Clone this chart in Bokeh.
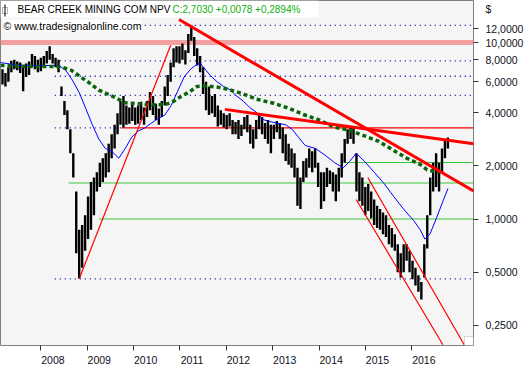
import numpy as np
from bokeh.plotting import figure
from bokeh.models import FixedTicker, Label, BoxAnnotation, Range1d
from bokeh.embed import file_html
from bokeh.resources import INLINE

# ---------------- data ----------------
title_name = "BEAR CREEK MINING COM NPV"
title_quote = "C:2,7030 +0,0078 +0,2894%"
source_note = "\u00a9 www.tradesignalonline.com"
currency = "$"

year_ticks = [2008, 2009, 2010, 2011, 2012, 2013, 2014, 2015, 2016]
year_labels = ["2008", "2009", "2010", "2011", "2012", "2013", "2014", "2015", "2016"]
price_ticks = [0.25, 0.5, 1.0, 2.0, 4.0, 6.0, 8.0, 10.0, 12.0]
price_labels = ["0,2500", "0,5000", "1,0000", "2,0000", "4,0000", "6,0000", "8,0000", "10,0000", "12,0000"]

bar_high = [7.05, 6.71, 7.23, 7.89, 7.99, 7.80, 7.70, 7.41, 7.60, 7.80, 8.61, 8.40, 7.99, 8.19, 8.40, 8.94, 9.51, 8.61, 8.19, 7.99,
            5.64, 4.67, 4.13, 3.22, 2.36, 1.43, 0.87, 0.925, 1.05, 1.34, 1.62, 1.72, 1.84, 2.08, 2.21, 2.36, 2.67, 3.02, 3.42, 3.98,
            4.67, 4.98, 4.39, 4.28, 4.50, 4.28, 4.39, 4.61, 4.28, 4.67, 5.24, 4.98, 4.50, 4.23, 4.67, 5.64, 6.54, 7.70, 9.28, 9.51,
            9.51, 9.88, 9.05, 11.19, 12.52, 10.76, 9.28, 8.40, 7.23, 5.99, 5.64, 4.98, 5.11, 4.39, 4.13, 3.98, 3.88, 3.98, 3.64, 3.54,
            3.64, 3.42, 3.78, 3.88, 3.42, 3.22, 3.64, 3.88, 3.78, 3.50, 3.64, 3.42, 3.42, 3.59, 3.50, 3.30, 3.02, 2.67, 2.51, 2.36,
            1.95, 1.72, 2.13, 2.21, 2.51, 2.42, 2.51, 2.08, 1.84, 1.84, 1.95, 1.88, 1.84, 1.79, 1.95, 2.36, 2.84, 3.22, 3.34, 3.30,
            2.36, 1.84, 1.72, 1.52, 1.58, 1.43, 1.29, 1.19, 1.14, 1.09, 1.05, 0.925, 0.89, 0.82, 0.72, 0.64, 0.72, 0.72, 0.66, 0.58,
            0.53, 0.48, 0.44, 0.72, 1.05, 1.72, 2.08, 2.36, 2.08, 2.51, 2.84, 2.90]
bar_low = [5.78, 5.64, 5.99, 6.79, 7.05, 6.96, 6.71, 5.30, 6.38, 6.54, 7.23, 7.05, 6.79, 6.88, 7.23, 7.60, 7.99, 7.60, 7.23, 6.79,
           4.98, 3.88, 3.22, 2.36, 1.72, 0.64, 0.46, 0.53, 0.66, 0.77, 0.87, 1.05, 1.43, 1.52, 1.62, 1.72, 1.84, 2.21, 2.51, 3.02,
           3.42, 3.30, 3.42, 3.47, 3.59, 3.42, 3.47, 3.64, 3.42, 3.78, 4.13, 3.88, 3.64, 3.42, 3.78, 4.39, 4.98, 5.99, 7.23, 7.70,
           7.60, 7.99, 7.51, 8.72, 10.24, 8.40, 7.41, 6.79, 5.11, 4.13, 3.88, 3.98, 3.78, 3.34, 3.42, 3.30, 3.22, 3.34, 3.02, 3.02,
           2.84, 2.95, 3.22, 3.10, 2.67, 2.51, 2.84, 3.22, 3.02, 2.84, 2.67, 2.36, 2.84, 3.10, 2.84, 2.36, 2.13, 2.03, 1.95, 1.72,
           1.19, 1.14, 1.62, 1.72, 1.95, 1.84, 1.95, 1.52, 1.14, 1.26, 1.52, 1.58, 1.43, 1.26, 1.43, 1.72, 2.08, 2.67, 2.84, 2.67,
           1.43, 1.26, 1.19, 1.05, 1.11, 1.01, 0.925, 0.89, 0.87, 0.82, 0.79, 0.72, 0.69, 0.66, 0.50, 0.466, 0.50, 0.58, 0.50, 0.455,
           0.42, 0.387, 0.35, 0.466, 0.68, 1.05, 1.43, 1.52, 1.43, 1.84, 2.21, 2.51]
first_bar, last_bar = 2007.173, 2016.778
bar_dates = np.linspace(first_bar, last_bar, len(bar_high))

ma_fast_dates = [2007.13, 2007.55, 2007.98, 2008.30, 2008.40, 2008.54, 2008.68, 2008.83, 2008.97, 2009.11, 2009.25, 2009.39,
                 2009.53, 2009.68, 2009.82, 2009.96, 2010.10, 2010.24, 2010.38, 2010.52, 2010.67, 2010.81, 2010.95, 2011.09,
                 2011.23, 2011.37, 2011.44, 2011.51, 2011.65, 2011.80, 2011.94, 2012.08, 2012.22, 2012.36, 2012.50, 2012.64,
                 2012.79, 2012.93, 2013.07, 2013.28, 2013.42, 2013.56, 2013.70, 2013.92, 2014.13, 2014.34, 2014.52, 2014.66,
                 2014.80, 2014.98, 2015.19, 2015.40, 2015.61, 2015.82, 2016.04, 2016.18, 2016.28, 2016.39, 2016.53, 2016.67, 2016.78]
ma_fast_values = [7.70, 7.41, 7.41, 7.41, 7.38, 6.94, 6.12, 5.19, 4.22, 3.42, 2.84, 2.51,
                  2.42, 2.21, 2.51, 2.91, 3.15, 3.28, 3.49, 3.69, 3.88, 4.39, 5.30, 6.38,
                  7.07, 7.54, 7.60, 7.23, 6.52, 5.99, 5.64, 5.40, 4.98, 4.67, 4.29, 4.04,
                  3.66, 3.57, 3.50, 3.42, 3.22, 2.90, 2.61, 2.51, 2.30, 2.08, 1.95, 2.12,
                  2.36, 2.12, 1.84, 1.59, 1.34, 1.14, 0.98, 0.87, 0.77, 0.82, 1.01, 1.26, 1.49]

ma_slow_dates = [2007.13, 2007.77, 2008.30, 2008.47, 2008.66, 2008.83, 2009.04, 2009.25, 2009.53, 2009.82, 2010.10, 2010.35,
                 2010.57, 2010.74, 2010.88, 2011.01, 2011.20, 2011.37, 2011.58, 2011.84, 2012.01, 2012.33, 2012.64, 2013.00,
                 2013.34, 2013.66, 2014.00, 2014.32, 2014.64, 2014.98, 2015.29, 2015.57, 2015.89, 2016.18, 2016.33, 2016.52, 2016.67]
ma_slow_values = [7.41, 7.32, 7.32, 7.23, 6.96, 6.46, 5.92, 5.37, 4.98, 4.56, 4.50, 4.44,
                  4.44, 4.50, 4.67, 4.92, 5.24, 5.64, 5.68, 5.57, 5.45, 5.15, 4.78, 4.54,
                  4.25, 3.91, 3.64, 3.32, 3.19, 2.96, 2.75, 2.48, 2.21, 2.04, 1.90, 1.85, 1.86]

dotted_levels = [12.5, 7.86, 6.44, 5.02, 0.458]
dotted_start = 2008.30
support_level = 3.28
support_break = 2009.74
green_levels = [2.09, 1.60, 1.00]
green_starts = [2014.55, 2008.60, 2009.25]
band_level = 10.0

thick_x0 = [2010.98, 2011.97]
thick_y0 = [13.49, 4.18]
thick_x1 = [2017.33, 2017.33]
thick_y1 = [1.44, 2.67]
thin_x0 = [2008.83, 2014.80, 2015.05]
thin_y0 = [0.46, 1.29, 1.72]
thin_x1 = [2010.80, 2016.67, 2017.13]
thin_y1 = [9.64, 0.194, 0.194]

x_start, x_end = 2007.13, 2017.33
y_low, y_high = 0.192, 17.3
currency_pos = 15.4  # where the "$" caption sits on the price axis

# ---------------- figure ----------------
FW, FH = 473, 345
FONT = "Liberation Sans"
p = figure(frame_width=FW, frame_height=FH, x_range=Range1d(x_start, x_end),
           y_range=Range1d(y_low, y_high), y_axis_type="log", y_axis_location="right",
           output_backend="svg", toolbar_location=None,
           min_border_left=0, min_border_top=0, min_border_right=49, min_border_bottom=19,
           background_fill_color="#f5f5f5", border_fill_color="white",
           outline_line_color="#808080", outline_line_width=1)
p.grid.visible = False

# y axis: labels on major ticks (no marks), marks drawn as minor ticks at the price levels
ya = p.yaxis[0]
y_label_ticks = price_ticks + [currency_pos]
ya.ticker = FixedTicker(ticks=y_label_ticks, minor_ticks=price_ticks)
ya.major_label_overrides = dict(zip(y_label_ticks, price_labels + [currency]))
ya.axis_line_color = None
ya.major_tick_in = 0
ya.major_tick_out = 0
ya.minor_tick_in = 0
ya.minor_tick_out = 5
ya.minor_tick_line_color = "#333333"
ya.major_label_standoff = 7
ya.major_label_text_font = FONT
ya.major_label_text_font_size = "10.5px"
ya.major_label_text_color = "#101020"

# x axis
label_pos = [y + 0.26 for y in year_ticks]
xa = p.xaxis[0]
xa.ticker = FixedTicker(ticks=label_pos, minor_ticks=year_ticks)
xa.major_label_overrides = dict(zip(label_pos, year_labels))
xa.axis_line_color = None
xa.major_tick_in = 0
xa.major_tick_out = 0
xa.minor_tick_in = 0
xa.minor_tick_out = 5
xa.minor_tick_line_color = "#333333"
xa.major_label_standoff = 5
xa.major_label_text_font = FONT
xa.major_label_text_font_size = "10.5px"
xa.major_label_text_color = "#101020"

# horizontal levels
p.segment(x0=x_start, y0=band_level, x1=x_end, y1=band_level, line_color="#f4a0a0", line_width=5)
p.segment(x0=[dotted_start] * len(dotted_levels), y0=dotted_levels, x1=[x_end] * len(dotted_levels), y1=dotted_levels,
          line_color="#0000a0", line_width=1.3, line_dash="1 4")
p.segment(x0=dotted_start, y0=support_level, x1=support_break, y1=support_level,
          line_color="#0000a0", line_width=1.3, line_dash="1 4")
p.segment(x0=support_break, y0=support_level, x1=x_end, y1=support_level, line_color="#ff0000", line_width=1.2)
p.segment(x0=green_starts, y0=green_levels, x1=[x_end] * len(green_levels), y1=green_levels,
          line_color="#3cc83c", line_width=1.2)

# price bars
p.segment(x0=bar_dates, y0=bar_low, x1=bar_dates, y1=bar_high, line_color="black", line_width=2.4)

# moving averages
p.line(ma_fast_dates, ma_fast_values, line_color="#0000ff", line_width=1)
p.line(ma_slow_dates, ma_slow_values, line_color="#0a640a", line_width=3.5, line_dash="4 3")

# trend lines
p.segment(x0=thick_x0, y0=thick_y0, x1=thick_x1, y1=thick_y1, line_color="#ff0000", line_width=3)
p.segment(x0=thin_x0, y0=thin_y0, x1=thin_x1, y1=thin_y1, line_color="#ff0000", line_width=1.2)

# header
def screen_box(left, right, top, bottom, **kw):
    return BoxAnnotation(left=left, right=right, top=top, bottom=bottom, left_units="screen", right_units="screen",
                         top_units="screen", bottom_units="screen", **kw)

p.add_layout(screen_box(0, 318, FH, FH - 17, fill_color="white", fill_alpha=1, line_color=None))
p.add_layout(screen_box(2, 7, FH - 7, FH - 13, fill_color="white", fill_alpha=1, line_color="black", line_width=1))
p.add_layout(screen_box(4, 5, FH - 4, FH - 16, fill_color="black", fill_alpha=1, line_color=None))
p.add_layout(Label(x=17, y=FH - 9, x_units="screen", y_units="screen", text=title_name, text_font=FONT,
                   text_font_size="10px", text_color="black", text_baseline="middle"))
p.add_layout(Label(x=172, y=FH - 9, x_units="screen", y_units="screen", text=title_quote, text_font=FONT,
                   text_font_size="10px", text_color="#10b010", text_baseline="middle"))
p.add_layout(Label(x=3, y=FH - 25, x_units="screen", y_units="screen", text=source_note, text_font=FONT,
                   text_font_size="10.5px", text_color="black", text_baseline="middle",
                   background_fill_color="white", background_fill_alpha=1))
# resize handle in the bottom-right corner
p.add_layout(screen_box(FW - 9, FW, 9, 0, fill_color="white", fill_alpha=1, line_color="#808080", line_width=1))

open("out.html", "w").write(file_html(p, INLINE))
